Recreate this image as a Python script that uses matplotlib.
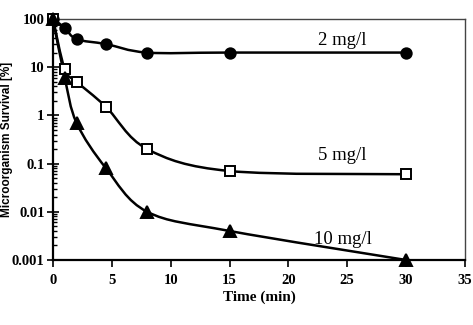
#! /usr/bin/env python3

"""Microorganism survival versus contact time, log scale"""

import numpy as np
import matplotlib
matplotlib.use('Agg')
import matplotlib.pyplot as plt
from matplotlib.path import Path
from matplotlib.patches import PathPatch
from matplotlib.ticker import LogLocator, FixedLocator

plt.rcParams['font.family'] = ['Liberation Serif', 'DejaVu Serif']

# Data

time_min = [0, 1, 2, 4.5, 8, 15, 30]
surv_2 = [100, 65, 38, 30, 20, 20, 20]
surv_5 = [100, 9, 5, 1.5, 0.2, 0.07, 0.06]
surv_10 = [100, 6, 0.7, 0.08, 0.01, 0.004, 0.001]

series_labels = ['2 mg/l', '5 mg/l', '10 mg/l']
ytick_vals = [0.001, 0.01, 0.1, 1, 10, 100]
ytick_labels = ['0.001', '0.01', '0.1', '1', '10', '100']
xtick_vals = [0, 5, 10, 15, 20, 25, 30, 35]


def smooth_path(xs, ys):
    """Excel style smoothed line: Catmull-Rom Bezier in (x, log y) space"""
    px = np.asarray(xs, float)
    py = np.log10(np.asarray(ys, float))
    n = len(px)
    verts = [(px[0], py[0])]
    codes = [Path.MOVETO]
    for i in range(n - 1):
        i0 = max(i - 1, 0)
        i3 = min(i + 2, n - 1)
        c1 = (px[i] + (px[i + 1] - px[i0]) / 6, py[i] + (py[i + 1] - py[i0]) / 6)
        c2 = (px[i + 1] - (px[i3] - px[i]) / 6, py[i + 1] - (py[i3] - py[i]) / 6)
        verts += [c1, c2, (px[i + 1], py[i + 1])]
        codes += [Path.CURVE4] * 3
    verts = [(vx, 10 ** vy) for vx, vy in verts]
    return Path(verts, codes)


fig = plt.figure(figsize=(4.73, 3.25), dpi=100)
ax = fig.add_axes([0.112, 0.2, 0.871, 0.742])

styles = [
    dict(marker='o', mfc='black', ms=7.5),
    dict(marker='s', mfc='white', ms=6.5),
    dict(marker='^', mfc='black', ms=8),
]

for ys, st in zip((surv_2, surv_5, surv_10), styles):
    ax.add_patch(PathPatch(smooth_path(time_min, ys), fill=False,
                           lw=1.8, ec='black', zorder=2))
    ax.plot(time_min, ys, ls='none', mec='black', mew=1.4, zorder=3,
            clip_on=False, **st)

ax.set_yscale('log')
ax.set_xlim(0, 35)
ax.set_ylim(0.001, 100)

ax.xaxis.set_major_locator(FixedLocator(xtick_vals))
ax.set_yticks(ytick_vals)
ax.set_yticklabels(ytick_labels)
ax.yaxis.set_minor_locator(LogLocator(base=10, subs=np.arange(2, 10)))
ax.yaxis.set_minor_formatter(plt.NullFormatter())

for lab in ax.get_xticklabels() + ax.get_yticklabels():
    lab.set_fontweight('bold')
    lab.set_fontsize(10.5)

ax.tick_params(axis='x', direction='out', length=5, width=1.2, pad=5)
ax.tick_params(axis='y', which='major', direction='inout', length=8, width=1.2, pad=2)
ax.tick_params(axis='y', which='minor', direction='in', length=3, width=1.0)

for side in ('left', 'bottom'):
    ax.spines[side].set_linewidth(1.6)
for side in ('top', 'right'):
    ax.spines[side].set_linewidth(1.0)
    ax.spines[side].set_color('#444444')

ax.set_xlabel('Time (min)', fontweight='bold', fontsize=11)
ax.xaxis.set_label_coords(0.5, -0.125)
ax.set_ylabel('Microorganism Survival [%]', fontweight='bold', fontsize=8.5,
              family=['Liberation Sans', 'DejaVu Sans'])
ax.yaxis.set_label_coords(-0.098, 0.5)

ax.text(24.6, 36, series_labels[0], ha='center', va='center', fontsize=13.5)
ax.text(24.6, 0.15, series_labels[1], ha='center', va='center', fontsize=13.5)
ax.text(24.6, 0.0026, series_labels[2], ha='center', va='center', fontsize=13.5)

fig.savefig('out.png', dpi=100)
plt.close(fig)
